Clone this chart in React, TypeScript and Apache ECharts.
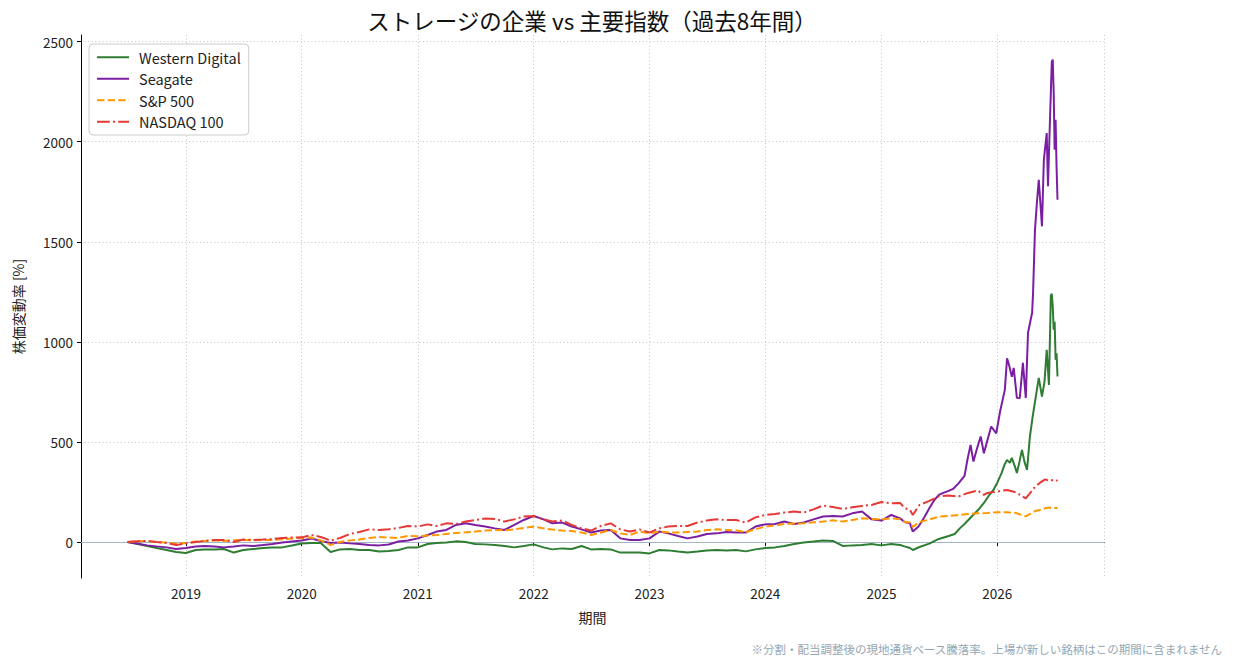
import React, { useEffect, useRef } from "react";
import * as echarts from "echarts";

const FONT = '"Noto Sans CJK JP", "Noto Sans", sans-serif';

const titleText = "ストレージの企業 vs 主要指数（過去8年間）";
const yAxisName = "株価変動率 [%]";
const xAxisName = "期間";
const footnote = "※分割・配当調整後の現地通貨ベース騰落率。上場が新しい銘柄はこの期間に含まれません";

const seriesNames = ["Western Digital", "Seagate", "S&P 500", "NASDAQ 100"];
const seriesColors = ["#2e7d32", "#7b1fa2", "#ff9800", "#e53935"];
const yTicks = [0, 500, 1000, 1500, 2000, 2500];

// Monthly points, first of each month from 2018-07 to 2025-02
const monthlyStart = [2018, 6];
const wdMonthly = [
  0, -10, -20, -30, -40, -50,
  -55, -40, -38, -37, -35, -53, -40, -35, -30, -27, -27, -18,
  -8, -5, -5, -50, -37, -35, -40, -40, -48, -45, -40, -27,
  -27, -10, -5, -3, 3, 0, -10, -12, -15, -20, -27, -20,
  -12, -27, -37, -32, -35, -20, -37, -35, -37, -53, -53, -52,
  -57, -40, -42, -48, -53, -48, -43, -40, -43, -40, -47, -37,
  -30, -27, -20, -10, -3, 2, 7, 5, -20, -17, -15, -10,
  -17, -10,
];
const stxMonthly = [
  0, -8, -17, -22, -27, -35,
  -30, -23, -20, -23, -27, -23, -17, -20, -15, -10, -3, 2,
  7, 17, 5, -5, -3, -7, -10, -15, -17, -13, 2, 7,
  18, 35, 52, 60, 85, 93, 85, 77, 68, 60, 85, 110,
  130, 113, 93, 97, 77, 63, 47, 57, 60, 18, 10, 10,
  18, 52, 43, 30, 18, 27, 40, 43, 50, 47, 47, 77,
  88, 90, 102, 90, 97, 113, 127, 130, 127, 143, 152, 113,
  107, 135,
];
const spMonthly = [
  0, 3, 5, 0, -3, -10,
  -5, 2, 5, 8, 5, 8, 10, 8, 10, 10, 14, 17,
  20, 22, 8, -15, 0, 8, 12, 20, 25, 22, 20, 30,
  28, 32, 35, 40, 45, 48, 52, 57, 60, 58, 63, 70,
  77, 68, 62, 57, 55, 47, 35, 47, 60, 43, 35, 52,
  43, 52, 48, 47, 50, 52, 60, 63, 60, 57, 50, 63,
  77, 83, 90, 92, 93, 98, 102, 108, 102, 110, 118, 115,
  113, 118,
];
const ndxMonthly = [
  0, 3, 5, 0, -5, -15,
  -8, 0, 5, 10, 10, 0, 12, 10, 12, 15, 20, 22,
  23, 35, 25, 7, 20, 40, 50, 63, 60, 63, 70, 80,
  77, 88, 80, 93, 90, 102, 110, 117, 115, 102, 113, 127,
  130, 113, 102, 107, 85, 68, 57, 80, 93, 63, 52, 63,
  47, 68, 77, 80, 80, 97, 107, 113, 110, 110, 97, 123,
  135, 140, 147, 152, 147, 163, 182, 175, 165, 173, 180, 185,
  200, 193,
];

// Finer points from 2025-03 onward
const wdTail: [string, number][] = [
  ["2025-03-01", -15], ["2025-03-15", -22], ["2025-04-01", -30], ["2025-04-10", -40],
  ["2025-05-01", -25], ["2025-06-01", -8], ["2025-07-01", 15], ["2025-08-01", 30],
  ["2025-08-20", 40], ["2025-09-05", 68], ["2025-09-20", 90], ["2025-10-05", 115],
  ["2025-10-20", 140], ["2025-11-05", 165], ["2025-11-20", 195], ["2025-12-05", 230],
  ["2025-12-20", 260], ["2026-01-01", 295], ["2026-01-15", 345], ["2026-01-25", 390],
  ["2026-02-01", 410], ["2026-02-10", 395], ["2026-02-16", 420], ["2026-02-25", 380],
  ["2026-03-04", 345], ["2026-03-12", 400], ["2026-03-20", 460], ["2026-03-28", 400],
  ["2026-04-05", 360], ["2026-04-14", 527], ["2026-04-24", 640], ["2026-05-04", 740],
  ["2026-05-12", 820], ["2026-05-22", 727], ["2026-05-30", 800], ["2026-06-06", 960],
  ["2026-06-13", 785], ["2026-06-19", 1230], ["2026-06-22", 1240], ["2026-06-25", 1177],
  ["2026-06-28", 1060], ["2026-07-01", 1100], ["2026-07-04", 910], ["2026-07-07", 943],
  ["2026-07-10", 827],
];
const stxTail: [string, number][] = [
  ["2025-03-01", 118], ["2025-03-15", 100], ["2025-04-01", 93], ["2025-04-10", 52],
  ["2025-04-28", 77], ["2025-05-15", 120], ["2025-06-01", 168], ["2025-06-15", 205],
  ["2025-07-01", 235], ["2025-07-15", 245], ["2025-08-01", 255], ["2025-08-15", 265],
  ["2025-09-01", 293], ["2025-09-20", 330], ["2025-09-29", 410], ["2025-10-09", 485],
  ["2025-10-18", 402], ["2025-10-28", 460], ["2025-11-10", 527], ["2025-11-20", 443],
  ["2025-12-03", 520], ["2025-12-13", 577], ["2025-12-29", 543], ["2026-01-10", 652],
  ["2026-01-25", 760], ["2026-02-01", 918], ["2026-02-08", 880], ["2026-02-16", 825],
  ["2026-02-22", 870], ["2026-03-04", 720], ["2026-03-13", 718], ["2026-03-23", 895],
  ["2026-04-01", 720], ["2026-04-08", 1045], ["2026-04-21", 1145], ["2026-04-24", 1245],
  ["2026-04-30", 1560], ["2026-05-06", 1693], ["2026-05-12", 1810], ["2026-05-22", 1577],
  ["2026-05-28", 1910], ["2026-06-06", 2043], ["2026-06-10", 1777], ["2026-06-16", 2093],
  ["2026-06-22", 2400], ["2026-06-25", 2410], ["2026-06-28", 2243], ["2026-07-01", 1960],
  ["2026-07-04", 2110], ["2026-07-07", 1877], ["2026-07-10", 1710],
];
const spTail: [string, number][] = [
  ["2025-03-01", 113], ["2025-03-15", 100], ["2025-04-01", 97], ["2025-04-10", 75],
  ["2025-05-01", 100], ["2025-06-01", 112], ["2025-07-01", 127], ["2025-08-01", 130],
  ["2025-09-01", 135], ["2025-10-01", 140], ["2025-11-01", 143], ["2025-12-01", 145],
  ["2026-01-01", 148], ["2026-02-01", 148], ["2026-03-01", 145], ["2026-04-01", 128],
  ["2026-04-15", 140], ["2026-05-01", 155], ["2026-05-15", 160], ["2026-06-01", 168],
  ["2026-06-15", 172], ["2026-07-01", 170], ["2026-07-10", 170],
];
const ndxTail: [string, number][] = [
  ["2025-03-01", 195], ["2025-03-15", 170], ["2025-04-01", 160], ["2025-04-10", 135],
  ["2025-05-01", 185], ["2025-06-01", 205], ["2025-07-01", 228], ["2025-08-01", 232],
  ["2025-09-01", 227], ["2025-10-01", 245], ["2025-11-01", 257], ["2025-11-20", 235],
  ["2025-12-01", 245], ["2026-01-01", 252], ["2026-02-01", 260], ["2026-03-01", 248],
  ["2026-04-01", 218], ["2026-04-15", 245], ["2026-05-01", 277], ["2026-05-15", 295],
  ["2026-06-01", 313], ["2026-06-15", 305], ["2026-07-01", 312], ["2026-07-10", 305],
];

function toTs(s: string): number {
  const [y, m, d] = s.split("-").map(Number);
  return Date.UTC(y, m - 1, d);
}

function buildSeries(monthly: number[], tail: [string, number][]): [number, number][] {
  const out: [number, number][] = monthly.map((v, k) => [
    Date.UTC(monthlyStart[0], monthlyStart[1] + k, 1),
    v,
  ]);
  tail.forEach(([d, v]) => out.push([toTs(d), v]));
  return out;
}

export default function App() {
  const ref = useRef<HTMLDivElement>(null);

  useEffect(() => {
    if (!ref.current) return;
    const chart = echarts.init(ref.current, undefined, { renderer: "svg" });

    const all = [
      buildSeries(wdMonthly, wdTail),
      buildSeries(stxMonthly, stxTail),
      buildSeries(spMonthly, spTail),
      buildSeries(ndxMonthly, ndxTail),
    ];
    let t0 = Infinity, t1 = -Infinity, v0 = Infinity, v1 = -Infinity;
    all.forEach((s) =>
      s.forEach(([t, v]) => {
        t0 = Math.min(t0, t); t1 = Math.max(t1, t);
        v0 = Math.min(v0, v); v1 = Math.max(v1, v);
      })
    );
    const tPad = (t1 - t0) * 0.05;
    const vPad = (v1 - v0) * 0.05;

    const lineTypes: any[] = ["solid", "solid", [7.4, 3.2], [12.8, 3.2, 2, 3.2]];
    const gridLine = { show: true, lineStyle: { color: "#c4c4c4", type: [1, 2.6], width: 1 } };

    chart.setOption({
      animation: false,
      backgroundColor: "#ffffff",
      textStyle: { fontFamily: FONT },
      grid: { left: 81, right: 130, top: 35, bottom: 88, containLabel: false },
      legend: {
        left: 89,
        top: 44,
        orient: "vertical",
        itemWidth: 32,
        itemHeight: 14,
        itemGap: 7,
        padding: [6, 8, 6, 7],
        backgroundColor: "rgba(255,255,255,0.85)",
        borderColor: "#cccccc",
        borderWidth: 1,
        borderRadius: 4,
        itemStyle: { opacity: 0, borderWidth: 0 },
        textStyle: {
          fontSize: 14.5,
          lineHeight: 14,
          color: "#222222",
          fontFamily: FONT,
          padding: [0, 0, 0, 5],
        },
        data: seriesNames,
      },
      xAxis: {
        type: "time",
        min: t0 - tPad,
        max: t1 + tPad,
        splitNumber: 9,
        minInterval: 365 * 24 * 3600 * 1000,
        name: xAxisName,
        nameLocation: "middle",
        nameGap: 32,
        nameTextStyle: { fontSize: 14, color: "#222222", fontFamily: FONT },
        axisLine: { show: true, lineStyle: { color: "#000000", width: 1 } },
        axisTick: { show: true, length: 4, lineStyle: { color: "#000000" } },
        axisLabel: {
          color: "#222222",
          fontSize: 13.5,
          fontFamily: FONT,
          margin: 8,
          formatter: "{yyyy}",
          showMinLabel: false,
          showMaxLabel: false,
        },
        splitLine: gridLine,
      },
      yAxis: {
        type: "value",
        min: Math.round(v0 - vPad),
        max: Math.round(v1 + vPad),
        splitNumber: 5,
        name: yAxisName,
        nameLocation: "middle",
        nameGap: 56,
        nameRotate: 90,
        nameTextStyle: { fontSize: 14, color: "#222222", fontFamily: FONT },
        axisLine: { show: true, lineStyle: { color: "#000000", width: 1 } },
        axisTick: { show: true, length: 4, lineStyle: { color: "#000000" }, customValues: yTicks },
        axisLabel: {
          color: "#222222",
          fontSize: 13.5,
          fontFamily: FONT,
          margin: 8,
          customValues: yTicks,
          formatter: (v: number) => (yTicks.indexOf(v) >= 0 ? String(v) : ""),
        },
        splitLine: gridLine,
      },
      series: all.map((data, i) => ({
        name: seriesNames[i],
        type: "line",
        data,
        symbol: "none",
        showSymbol: false,
        color: seriesColors[i],
        lineStyle: { color: seriesColors[i], width: 2, type: lineTypes[i] },
        z: 3 + i,
        markLine:
          i === 0
            ? {
                silent: true,
                symbol: "none",
                label: { show: false },
                lineStyle: { color: "#a3b6c6", width: 1, type: "solid" },
                data: [{ yAxis: 0 }],
                z: 1,
              }
            : undefined,
      })),
      graphic: [
        {
          type: "text",
          x: 592,
          y: 20,
          style: {
            text: titleText,
            fontSize: 22.5,
            fontFamily: FONT,
            fill: "#111111",
            textAlign: "center",
            textVerticalAlign: "middle",
          },
        },
        {
          type: "text",
          x: 1222,
          y: 649,
          style: {
            text: footnote,
            fontSize: 11.5,
            fontFamily: FONT,
            fill: "#94a6b3",
            textAlign: "right",
            textVerticalAlign: "middle",
          },
        },
      ],
    });

    return () => chart.dispose();
  }, []);

  return (
    <div
      ref={ref}
      style={{ position: "fixed", left: 0, top: 0, width: 1234, height: 666, background: "#fff" }}
    />
  );
}
